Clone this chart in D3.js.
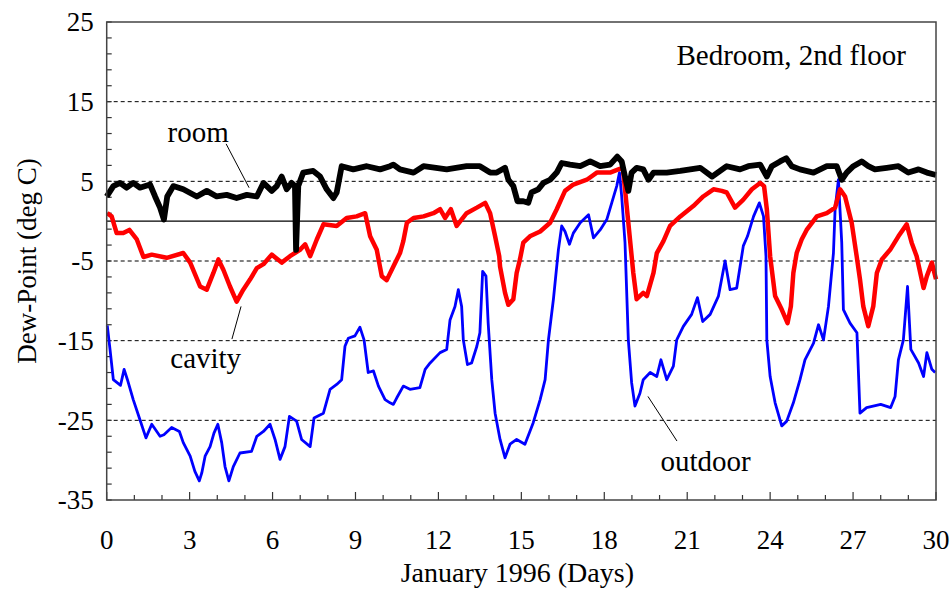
<!DOCTYPE html>
<html>
<head>
<meta charset="utf-8">
<script src="https://cdn.jsdelivr.net/npm/d3@7"></script>
<style>
  body { margin: 0; background: #fff; }
  svg { display: block; font-family: "Liberation Serif", "Times New Roman", serif; }
</style>
</head>
<body>
<svg width="950" height="596"></svg>
<script>
// dew-point readings, [day, deg C]
const outdoorData = [
  [0.02,-13.1],[0.12,-16.1],[0.24,-19.9],[0.5,-20.6],[0.63,-18.6],[0.75,-19.9],[0.96,-22.4],[1.2,-24.9],
  [1.42,-27.2],[1.63,-25.5],[1.93,-27],[2.07,-26.8],[2.35,-25.9],[2.63,-26.4],[2.77,-27.8],[3.02,-29.5],
  [3.19,-31.4],[3.35,-32.6],[3.44,-31.6],[3.56,-29.5],[3.74,-28.3],[3.88,-26.6],[4.02,-25.5],[4.16,-27.8],
  [4.28,-30.8],[4.42,-32.6],[4.58,-30.8],[4.82,-29.1],[5.24,-28.9],[5.43,-27],[5.67,-26.4],[5.91,-25.5],
  [6.09,-27.4],[6.27,-29.9],[6.45,-28.3],[6.61,-24.5],[6.87,-25.1],[7.05,-27.4],[7.36,-28.3],[7.5,-24.7],
  [7.84,-24.1],[8.08,-21.1],[8.32,-20.5],[8.5,-19.9],[8.62,-15.7],[8.74,-14.7],[8.98,-14.4],[9.16,-13.3],
  [9.31,-14.9],[9.46,-19.0],[9.65,-18.8],[9.83,-20.7],[10.07,-22.4],[10.25,-22.8],[10.37,-23.0],[10.49,-22.2],
  [10.73,-20.7],[10.97,-21.1],[11.33,-20.9],[11.52,-18.6],[11.7,-17.8],[12.06,-16.5],[12.3,-16.1],[12.42,-12.4],
  [12.6,-10.7],[12.72,-8.6],[12.84,-10.7],[12.9,-14.9],[13.05,-18.0],[13.2,-17.8],[13.39,-15.7],[13.5,-14.0],
  [13.6,-6.3],[13.72,-6.9],[13.8,-12.8],[13.93,-19.9],[14.05,-24.1],[14.23,-27.4],[14.41,-29.7],[14.59,-28.0],
  [14.83,-27.4],[15.13,-28.0],[15.43,-25.3],[15.68,-22.4],[15.86,-19.9],[15.98,-14.9],[16.16,-9.8],[16.34,-3.6],
  [16.46,-0.6],[16.58,-1.3],[16.74,-2.9],[16.88,-1.5],[17.13,-0.2],[17.43,0.8],[17.61,-2.1],[17.85,-1.1],
  [18.09,0.2],[18.27,2.3],[18.45,4.4],[18.55,6.1],[18.63,3.1],[18.75,-2.7],[18.87,-14.9],[18.99,-20.3],
  [19.11,-23.2],[19.29,-21.6],[19.41,-19.9],[19.66,-19.0],[19.9,-19.5],[20.05,-17.4],[20.26,-19.9],[20.5,-18.2],
  [20.62,-14.9],[20.86,-13.2],[21.16,-11.7],[21.37,-9.6],[21.56,-12.6],[21.83,-11.7],[22.13,-9.4],[22.37,-5.0],
  [22.55,-8.6],[22.79,-8.4],[23.03,-3.1],[23.18,-1.9],[23.4,0.6],[23.61,2.3],[23.76,0.6],[23.85,-4.4],
  [23.88,-14.9],[24.0,-19.5],[24.18,-22.8],[24.42,-25.7],[24.6,-25.1],[24.84,-22.8],[25.08,-19.9],[25.26,-17.4],
  [25.57,-15.3],[25.75,-13.0],[25.93,-14.9],[26.11,-10.7],[26.29,-4.0],[26.35,1.5],[26.47,5.2],[26.59,-2.7],
  [26.65,-11.1],[26.89,-12.8],[27.14,-14.0],[27.25,-24.1],[27.49,-23.4],[28.0,-23.0],[28.36,-23.4],[28.52,-22.0],
  [28.64,-17.4],[28.82,-14.9],[28.97,-8.2],[29.09,-16.1],[29.37,-17.8],[29.55,-19.5],[29.67,-16.5],[29.85,-18.6],
  [29.97,-19.0]
];

const cavityData = [
  [0.02,1.0],[0.18,0.6],[0.36,-1.5],[0.6,-1.5],[0.82,-1.1],[1.09,-2.3],[1.33,-4.5],[1.63,-4.2],[2.17,-4.6],
  [2.77,-4.0],[3.02,-5.2],[3.38,-8.2],[3.62,-8.6],[3.86,-6.5],[4.04,-4.8],[4.22,-6.1],[4.46,-8.2],[4.7,-10.1],
  [4.94,-8.6],[5.19,-7.3],[5.43,-5.9],[5.67,-5.4],[5.97,-4.2],[6.33,-5.2],[6.63,-4.4],[6.99,-3.6],[7.18,-2.9],
  [7.36,-4.4],[7.6,-2.3],[7.84,-0.4],[8.32,-0.6],[8.68,0.4],[9.04,0.6],[9.35,1.0],[9.53,-1.9],[9.77,-3.6],
  [9.95,-6.9],[10.13,-7.4],[10.37,-5.7],[10.61,-4.0],[10.73,-2.5],[10.86,-0.2],[11.1,0.4],[11.46,0.6],
  [11.82,1.0],[12.06,1.5],[12.24,0.4],[12.45,1.5],[12.66,-0.6],[13.02,1.0],[13.39,1.7],[13.69,2.3],[13.87,1.0],
  [14.05,-1.9],[14.2,-4.4],[14.23,-5.7],[14.41,-9.0],[14.53,-10.5],[14.71,-9.8],[14.83,-6.5],[14.95,-4.8],
  [15.07,-2.7],[15.31,-1.9],[15.68,-1.3],[16.04,-0.2],[16.28,1.5],[16.58,3.8],[16.88,4.6],[17.37,5.2],
  [17.73,6.1],[18.21,6.1],[18.51,6.5],[18.67,6.7],[18.75,4.0],[18.87,-0.2],[18.99,-4.4],[19.05,-6.5],
  [19.17,-9.8],[19.41,-9.0],[19.54,-9.4],[19.78,-6.5],[19.9,-4.0],[20.14,-2.5],[20.38,-0.6],[20.75,0.6],
  [21.22,1.9],[21.58,3.1],[21.95,4.0],[22.25,3.8],[22.43,3.6],[22.73,1.7],[23.03,2.7],[23.34,4.0],[23.64,4.8],
  [23.78,4.4],[23.88,1.5],[24.0,-4.4],[24.18,-9.4],[24.42,-11.1],[24.63,-12.8],[24.75,-10.7],[24.84,-6.5],
  [24.96,-4.0],[25.14,-2.3],[25.32,-1.1],[25.69,0.6],[26.05,1.0],[26.35,1.7],[26.53,4.0],[26.71,3.1],
  [26.95,-0.2],[27.13,-4.4],[27.25,-7.3],[27.37,-10.7],[27.55,-13.2],[27.73,-10.7],[27.86,-6.5],[28.04,-4.8],
  [28.34,-3.6],[28.64,-1.9],[28.94,-0.4],[29.12,-2.7],[29.3,-4.4],[29.55,-8.4],[29.67,-6.9],[29.85,-5.2],[30.0,-7.3]
];

const roomData = [
  [0.0,3.1],[0.24,4.4],[0.48,4.8],[0.72,4.2],[0.96,4.8],[1.2,4.2],[1.57,4.6],[1.75,3.1],[1.93,1.7],[2.07,0.2],
  [2.19,3.1],[2.41,4.4],[2.77,4.0],[3.26,3.1],[3.62,3.8],[3.98,3.1],[4.34,3.3],[4.7,2.9],[5.07,3.3],[5.43,3.1],
  [5.67,4.8],[5.97,3.8],[6.15,4.4],[6.33,5.6],[6.51,4.0],[6.69,4.8],[6.81,4.4],[6.85,-3.6],[6.93,4.4],[7.11,6.1],
  [7.47,6.3],[7.72,5.6],[7.96,4.0],[8.2,2.9],[8.32,3.6],[8.5,6.9],[8.92,6.5],[9.41,6.9],[9.89,6.5],[10.25,6.9],
  [10.37,7.1],[10.61,6.5],[11.1,6.1],[11.46,6.9],[12.3,6.5],[13.02,6.9],[13.5,6.9],[13.87,6.1],[14.11,6.1],
  [14.41,6.7],[14.53,5.2],[14.71,4.4],[14.86,2.5],[15.07,2.5],[15.25,2.3],[15.37,3.6],[15.61,4.0],[15.8,4.8],
  [16.04,5.2],[16.28,6.1],[16.46,7.3],[16.76,7.1],[17.13,6.9],[17.49,7.5],[17.85,6.9],[18.21,7.1],[18.47,8.1],
  [18.63,7.5],[18.75,5.6],[18.87,3.8],[18.99,6.1],[19.17,6.7],[19.41,6.5],[19.6,5.2],[19.78,6.1],[20.26,6.1],
  [20.75,6.3],[21.47,6.7],[21.9,5.6],[22.43,6.9],[22.91,6.5],[23.21,6.9],[23.64,7.1],[23.88,5.6],[24.06,6.9],
  [24.36,7.5],[24.58,7.9],[24.78,6.9],[25.08,6.5],[25.57,6.1],[26.05,6.9],[26.41,6.9],[26.59,5.2],[26.77,6.1],
  [27.01,6.9],[27.31,7.5],[27.55,6.9],[27.79,6.5],[28.22,6.7],[28.64,6.9],[29.0,6.1],[29.37,6.5],[29.67,6.1],[30.0,5.8]
];

const xTickLabels = [0, 3, 6, 9, 12, 15, 18, 21, 24, 27, 30];
const yTickLabels = [25, 15, 5, -5, -15, -25, -35];
const gridValues = [15, 5, -5, -15, -25];

const svg = d3.select("svg");
const plotLeft = 106.7, plotRight = 936, plotTop = 22, plotBottom = 500;

const x = d3.scaleLinear().domain([0, 30]).range([plotLeft, plotRight]);
const y = d3.scaleLinear().domain([-35, 25]).range([plotBottom, plotTop]);

svg.append("rect").attr("width", 950).attr("height", 596).attr("fill", "#fff");

// dashed grid and solid zero line
svg.append("g")
  .selectAll("line")
  .data(gridValues)
  .join("line")
  .attr("x1", plotLeft).attr("x2", plotRight)
  .attr("y1", d => y(d)).attr("y2", d => y(d))
  .attr("stroke", "#000")
  .attr("stroke-width", 1)
  .attr("stroke-dasharray", "4,3");

svg.append("line")
  .attr("x1", plotLeft).attr("x2", plotRight)
  .attr("y1", y(0)).attr("y2", y(0))
  .attr("stroke", "#000")
  .attr("stroke-width", 1.2);

// minor ticks on the inside of the frame
svg.append("g")
  .selectAll("line")
  .data(d3.range(-35, 26, 2))
  .join("line")
  .attr("x1", plotLeft).attr("x2", plotLeft + 5)
  .attr("y1", d => y(d)).attr("y2", d => y(d))
  .attr("stroke", "#333").attr("stroke-width", 1.2);

svg.append("g")
  .selectAll("line")
  .data(d3.range(0, 31, 1))
  .join("line")
  .attr("x1", d => x(d)).attr("x2", d => x(d))
  .attr("y1", plotBottom).attr("y2", d => plotBottom - (d % 3 === 0 ? 8 : 5))
  .attr("stroke", "#333").attr("stroke-width", 1.2);

// series
const line = d3.line().x(d => x(d[0])).y(d => y(d[1]));

svg.append("path").datum(outdoorData)
  .attr("d", line).attr("fill", "none")
  .attr("stroke", "#0000ff").attr("stroke-width", 2.8).attr("stroke-linejoin", "round");

svg.append("path").datum(cavityData)
  .attr("d", line).attr("fill", "none")
  .attr("stroke", "#ff0000").attr("stroke-width", 4.5).attr("stroke-linejoin", "round");

svg.append("path").datum(roomData)
  .attr("d", line).attr("fill", "none")
  .attr("stroke", "#000").attr("stroke-width", 5.8).attr("stroke-linejoin", "round");

// frame
svg.append("rect")
  .attr("x", plotLeft).attr("y", plotTop)
  .attr("width", plotRight - plotLeft).attr("height", plotBottom - plotTop)
  .attr("fill", "none").attr("stroke", "#444").attr("stroke-width", 1.5);

// tick labels
svg.append("g")
  .selectAll("text")
  .data(yTickLabels)
  .join("text")
  .attr("x", plotLeft - 13)
  .attr("y", d => y(d))
  .attr("dy", "0.34em")
  .attr("text-anchor", "end")
  .attr("font-size", 27)
  .text(d => d);

svg.append("g")
  .selectAll("text")
  .data(xTickLabels)
  .join("text")
  .attr("x", d => x(d))
  .attr("y", 549)
  .attr("text-anchor", "middle")
  .attr("font-size", 27)
  .text(d => d);

// axis titles
svg.append("text")
  .attr("x", (plotLeft + plotRight) / 2 - 4)
  .attr("y", 582)
  .attr("text-anchor", "middle")
  .attr("font-size", 28)
  .text("January 1996 (Days)");

svg.append("text")
  .attr("transform", `translate(36,${(plotTop + plotBottom) / 2}) rotate(-90)`)
  .attr("text-anchor", "middle")
  .attr("font-size", 27)
  .text("Dew-Point (deg C)");

svg.append("text")
  .attr("x", 906).attr("y", 65)
  .attr("text-anchor", "end")
  .attr("font-size", 29)
  .text("Bedroom, 2nd floor");

// series labels with leader lines
const labels = [
  { text: "room", at: [2.2, 9.9], anchor: "start", lead: [[4.32, 9.7], [5.15, 4.2]] },
  { text: "cavity", at: [2.3, -18.4], anchor: "start", lead: [[4.53, -14.8], [4.86, -10.7]] },
  { text: "outdoor", at: [23.3, -31.3], anchor: "end", lead: [[19.58, -22.0], [20.63, -27.6]] }
];

svg.append("g")
  .selectAll("line")
  .data(labels)
  .join("line")
  .attr("x1", d => x(d.lead[0][0])).attr("y1", d => y(d.lead[0][1]))
  .attr("x2", d => x(d.lead[1][0])).attr("y2", d => y(d.lead[1][1]))
  .attr("stroke", "#000").attr("stroke-width", 1);

svg.append("g")
  .selectAll("text")
  .data(labels)
  .join("text")
  .attr("x", d => x(d.at[0])).attr("y", d => y(d.at[1]))
  .attr("text-anchor", d => d.anchor)
  .attr("font-size", 29)
  .text(d => d.text);
</script>
</body>
</html>
